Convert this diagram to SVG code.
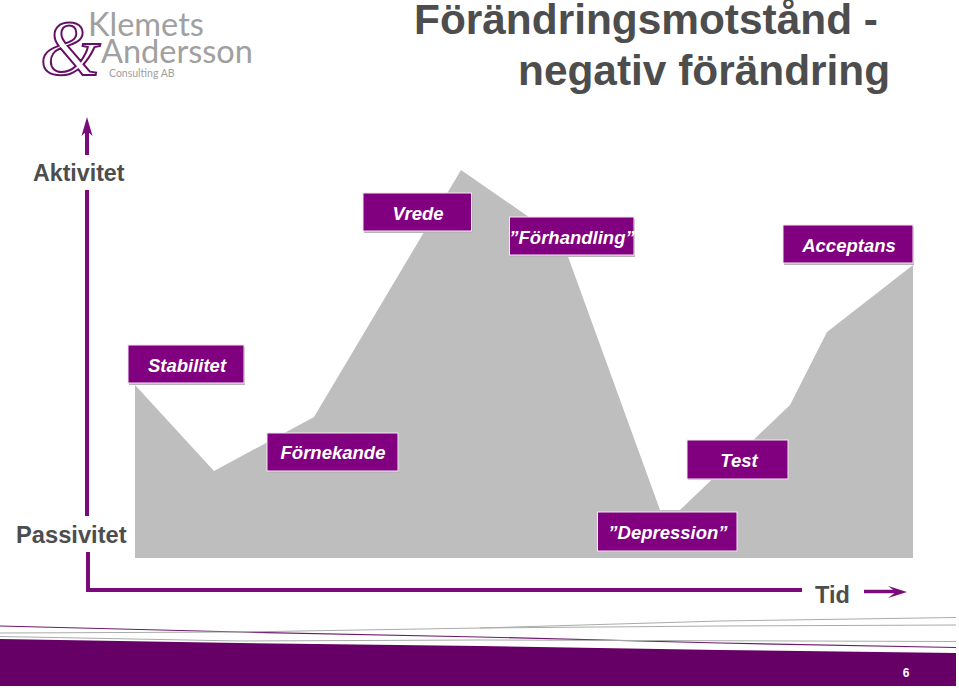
<svg xmlns="http://www.w3.org/2000/svg" width="959" height="689" viewBox="0 0 959 689">
<style>
.t{font-family:"Liberation Sans",Arial,sans-serif;font-weight:bold;fill:#4d4d4d}
.b{fill:#800080;stroke:#f4e8f4;stroke-width:1}
.s{fill:#b4b4b4}
.l{font-family:"Liberation Sans",Arial,sans-serif;font-weight:bold;font-style:italic;font-size:18.500px;fill:#fff;text-anchor:middle}
.ax{fill:none;stroke:#7b0a7b;stroke-width:4}
.g{fill:none;stroke:#a8aca8;stroke-width:1}
.p{fill:none;stroke:#6d1a6d;stroke-width:1.2}
.k{font-family:"Lato","Open Sans",sans-serif;fill:#a0a0a0}
</style>
<rect width="959" height="689" fill="#fff"/>
<g id="logo">
<text x="40" y="74" font-family="'Liberation Serif',serif" font-style="italic" font-size="78" fill="#fff" stroke="#660f66" stroke-width="2">&amp;</text>
<text class="k" x="88" y="36" font-size="32.500">Klemets</text>
<text class="k" x="101" y="63" font-size="32.500">Andersson</text>
<text class="k" x="109" y="77" font-size="10.500">Consulting AB</text>
</g>
<g id="title">
<text class="t" x="414" y="34" font-size="42.400">Förändringsmotstånd -</text>
<text class="t" x="518" y="85" font-size="42.400">negativ förändring</text>
</g>
<g id="curve"><polygon points="135,385 214,471 314,417 461,170 562,240 660,510 680,510 790,405 827,332 913,265 913,558 135,558" fill="#bebebe"/></g>
<g id="connectors">
<path class="ax" d="M87 155V130"/>
<path d="M87 117L92.500 136L87 131L81.500 136Z" fill="#7b0a7b"/>
<path class="ax" d="M87 190V516"/>
<path class="ax" d="M88 552V590H802"/>
<path d="M864 591.500H896" stroke="#7b0a7b" stroke-width="3.500" fill="none"/>
<path d="M907 592L888 586L896 592L888 598Z" fill="#7b0a7b"/>
</g>
<g id="axis-labels">
<text class="t" x="33" y="181" font-size="23.200">Aktivitet</text>
<text class="t" x="16" y="543" font-size="23.700">Passivitet</text>
<text class="t" x="815" y="603" font-size="23.500">Tid</text>
</g>
<g id="vrede"><rect class="s" x="364" y="195" width="109" height="38"/><rect class="b" x="363" y="193" width="108.500" height="38"/><text class="l" x="418" y="220">Vrede</text></g>
<g id="forhandling"><rect class="s" x="510" y="219" width="125" height="38"/><rect class="b" x="509.500" y="217" width="124.500" height="38"/><text class="l" x="572" y="244">”Förhandling”</text></g>
<g id="acceptans"><rect class="s" x="784" y="227" width="130" height="38"/><rect class="b" x="783" y="225" width="130" height="38"/><text class="l" x="849" y="252">Acceptans</text></g>
<g id="stabilitet"><rect class="s" x="129" y="347" width="116" height="38"/><rect class="b" x="128" y="345" width="116" height="38"/><text class="l" x="187" y="372">Stabilitet</text></g>
<g id="fornekande"><rect class="s" x="268" y="435" width="131" height="38"/><rect class="b" x="267" y="433" width="131" height="38"/><text class="l" x="333" y="459">Förnekande</text></g>
<g id="test"><rect class="s" x="688" y="442" width="101" height="38"/><rect class="b" x="687" y="440" width="101" height="39"/><text class="l" x="739" y="467">Test</text></g>
<g id="depression"><rect class="s" x="598" y="514" width="140" height="38"/><rect class="b" x="597.500" y="512" width="139.500" height="39"/><text class="l" x="668" y="539">”Depression”</text></g>
<g id="footer">
<path class="p" d="M0 626L240 632L480 637L720 643L956 647.500"/>
<path class="g" d="M0 633L240 632L480 628L720 621L956 617.500"/>
<path class="g" d="M0 636.500L240 641L480 640"/>
<path class="g" d="M480 628L720 626L956 625"/>
<path class="g" d="M480 640L956 641.500"/>
<polygon points="0,639 240,643 480,646 720,650 956,653 956,686 0,686" fill="#660066"/>
<text x="906" y="677" font-family="'Liberation Sans',Arial,sans-serif" font-weight="bold" font-size="12" fill="#fff" text-anchor="middle">6</text>
</g>
</svg>
